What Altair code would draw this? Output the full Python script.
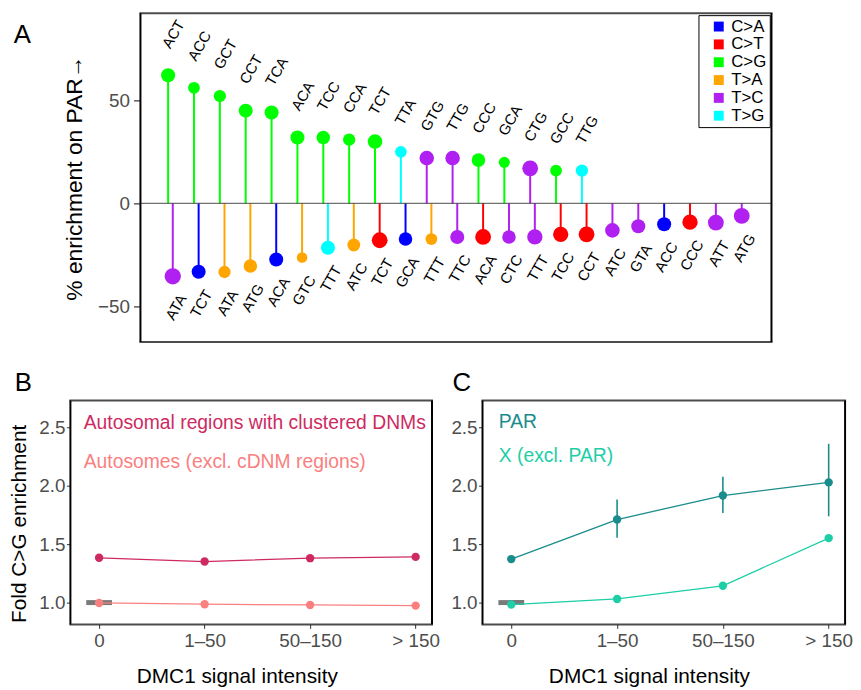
import json
import altair as alt
import pandas as pd

FONT = "Liberation Sans"

# ---------------- Panel A data ----------------
up_context = ["ACT", "ACC", "GCT", "CCT", "TCA", "ACA", "TCC", "CCA", "TCT",
              "TTA", "GTG", "TTG", "CCC", "GCA", "CTG", "GCC", "TTG"]
up_pct = [62.2, 56.1, 52.1, 45.0, 44.1, 32.0, 32.0, 30.9, 30.0,
          25.0, 22.0, 22.0, 21.0, 19.9, 17.0, 15.9, 15.9]
up_type = ["C>G"] * 9 + ["T>G", "T>C", "T>C", "C>G", "C>G", "T>C", "C>G", "T>G"]
up_n = [8, 6.7, 7, 8, 8, 8, 7.7, 7, 8.3, 6.7, 8.3, 8.3, 7.7, 6.3, 9, 6.7, 7]

down_context = ["ATA", "TCT", "ATA", "ATG", "ACA", "GTC", "TTT", "ATC", "TCT", "GCA",
                "TTT", "TTC", "ACA", "CTC", "TTT", "TCC", "CCT", "ATC", "GTA", "ACC",
                "CCC", "ATT", "ATG"]
down_pct = [-35.4, -33.2, -33.3, -30.4, -27.2, -26.3, -21.5, -20.2, -17.9, -17.3,
            -17.3, -16.3, -16.3, -16.3, -16.3, -15.0, -15.0, -13.1, -11.1, -10.1,
            -9.1, -9.3, -6.1]
down_type = ["T>C", "C>A", "T>A", "T>A", "C>A", "T>A", "T>G", "T>A", "C>T", "C>A",
             "T>A", "T>C", "C>T", "T>C", "T>C", "C>T", "C>T", "T>C", "T>C", "C>A",
             "C>T", "T>C", "T>C"]
down_n = [9.3, 8, 7, 7.7, 8, 6, 8, 7.3, 9, 7.7, 6.7, 8, 9, 7.7, 8.7, 8.7, 9, 8.3, 8, 8,
          8.7, 9, 9]

mut_types = ["C>A", "C>T", "C>G", "T>A", "T>C", "T>G"]
mut_colors = ["#0000FF", "#FF0000", "#00FF00", "#FFA500", "#B020F0", "#00FFFF"]

# ---------------- Panel B / C data ----------------
dmc1_bins = ["0", "1–50", "50–150", "> 150"]
b_clustered = [1.384, 1.352, 1.381, 1.392]
b_autosomes = [0.997, 0.986, 0.980, 0.974]
c_par = [1.373, 1.712, 1.918, 2.031]
c_par_lo = [None, 1.557, 1.769, 1.740]
c_par_hi = [None, 1.884, 2.079, 2.362]
c_x = [0.983, 1.031, 1.144, 1.553]
c_x_lo = [None, 0.996, None, None]
c_x_hi = [None, 1.066, None, None]
baseline_fold = [1.0]

B_GROUPS = ["Autosomal regions with clustered DNMs", "Autosomes (excl. cDNM regions)"]
B_COLORS = ["#CE2A62", "#FA8080"]
C_GROUPS = ["PAR", "X (excl. PAR)"]
C_COLORS = ["#1A8C8C", "#1DCEA6"]

# ---------------- Panel A ----------------
A_SHIFT = 70.7   # panel A frame starts this many px right of panel B's frame
A_W, A_H = 637, 332

up_df = pd.DataFrame({"context": up_context, "pct": up_pct, "type": up_type, "n": up_n})
up_df["pos"] = list(range(len(up_df)))
down_df = pd.DataFrame({"context": down_context, "pct": down_pct, "type": down_type, "n": down_n})
down_df["pos"] = [j + 0.18 for j in range(len(down_df))]
lolli = pd.concat([up_df, down_df], ignore_index=True)

x_lo, x_hi = -1.07, 23.33
y_lo, y_hi = -67.3, 92.3
x_mid = (x_lo + x_hi) / 2
x_lo_ext = x_lo - A_SHIFT * (x_hi - x_lo) / A_W
x_a = alt.X("pos:Q", scale=alt.Scale(domain=[x_lo_ext, x_hi], nice=False, zero=False), axis=None)
y_a = alt.Y(
    "pct:Q",
    scale=alt.Scale(domain=[y_lo, y_hi], nice=False, zero=False),
    axis=alt.Axis(values=[-50, 0, 50], title="% enrichment on PAR→", grid=False, domain=False,
                  offset=-A_SHIFT,
                  labelFontSize=19, labelColor="#4D4D4D", labelPadding=4, tickSize=7,
                  tickColor="#333333", tickWidth=1.2, titleFontSize=23, titleFontWeight="normal",
                  titleColor="black", titleX=-66, titleBaseline="middle"),
)

# frame of panel A's plotting region (in its own data units)
h_edges = pd.DataFrame({"pos": [x_mid, x_mid], "pct": [y_lo, y_hi]})
v_edges = pd.DataFrame({"pos": [x_lo, x_hi], "pct": [y_lo, y_lo], "pct2": [y_hi, y_hi]})
frame_h = alt.Chart(h_edges).mark_tick(orient="horizontal", size=A_W + 2, thickness=2, color="black").encode(x=x_a, y=y_a)
frame_v = alt.Chart(v_edges).mark_rule(strokeWidth=2, color="black").encode(x=x_a, y=y_a, y2="pct2:Q")

stems = alt.Chart(lolli).mark_rule(strokeWidth=2).encode(
    x=x_a, y=y_a, y2=alt.datum(0),
    stroke=alt.Stroke("type:N", scale=alt.Scale(domain=mut_types[::-1], range=mut_colors[::-1]), legend=None),
)
zero_line = alt.Chart(pd.DataFrame({"pos": [x_mid], "pct": [0.0]})).mark_tick(
    orient="horizontal", size=A_W, thickness=1.5, color="#333333").encode(x=x_a, y=y_a)
dots = alt.Chart(lolli).mark_circle(opacity=1).encode(
    x=x_a, y=y_a,
    color=alt.Color("type:N", scale=alt.Scale(domain=mut_types, range=mut_colors),
                    legend=alt.Legend(title=None, orient="top-right", offset=1.5, symbolType="square",
                                      symbolSize=100, symbolStrokeWidth=0, labelFontSize=17,
                                      labelColor="black", padding=3, rowPadding=0, symbolOffset=9,
                                      labelOffset=4, strokeColor="black", fillColor="white")),
    size=alt.Size("n:Q", scale=alt.Scale(type="pow", exponent=2, domain=[0, 10], range=[0, 314]), legend=None),
)
up_text = alt.Chart(up_df).mark_text(angle=300, align="left", baseline="alphabetic", radius=26, theta=0.08,
                                     fontSize=15, color="black").encode(x=x_a, y=y_a, text="context:N")
down_text = alt.Chart(down_df).mark_text(angle=300, align="right", baseline="top", radius=16.5, theta=2.9,
                                         fontSize=15, color="black").encode(x=x_a, y=y_a, text="context:N")
letter_a = alt.Chart(pd.DataFrame({"t": ["A"]})).mark_text(fontSize=26, align="left", baseline="alphabetic",
                                                           color="black").encode(text="t:N", x=alt.value(-57.3), y=alt.value(30))


def guard(x, y, y2):
    # invisible vertical tick that only pins the page bounds
    return alt.Chart(pd.DataFrame({"t": [0]})).mark_rule(opacity=0, strokeWidth=0.01).encode(
        x=alt.value(x), y=alt.value(y), y2=alt.value(y2))


panel_a = alt.layer(stems, zero_line, dots, up_text, down_text, frame_h, frame_v, letter_a,
                    guard(300, -2, 0)).properties(width=A_SHIFT + A_W, height=A_H)

# ---------------- Panels B / C ----------------
BC_X = [-0.272, 3.155]
BC_Y = [0.813, 2.733]


def x_bc():
    return alt.X("pos:Q", scale=alt.Scale(domain=BC_X, nice=False, zero=False),
                 axis=alt.Axis(values=[0, 1, 2, 3],
                               labelExpr=json.dumps(dmc1_bins, ensure_ascii=False) + "[datum.value]",
                               title="DMC1 signal intensity", grid=False, domain=False, tickSize=4,
                               tickColor="#333333", labelFontSize=19, labelColor="#4D4D4D", labelPadding=3,
                               titleFontSize=21, titleFontWeight="normal", titleColor="black",
                               titleX=168, titleY=53, titleBaseline="middle"))


def y_bc(title):
    kw = dict(values=[1.0, 1.5, 2.0, 2.5], format=".1f", grid=False, domain=False, tickSize=4,
              tickColor="#333333", labelFontSize=19, labelColor="#4D4D4D", labelPadding=1.5)
    if title:
        kw.update(title=title, titleFontSize=21, titleFontWeight="normal", titleColor="black",
                  titleX=-51, titleY=124, titleBaseline="middle")
    else:
        kw.update(title=None)
    return alt.Y("fold:Q", scale=alt.Scale(domain=BC_Y, nice=False, zero=False), axis=alt.Axis(**kw))


def make_panel(groups, colors, series, lo, hi, letter, letter_x, title, texts, width, guards=()):
    rows = []
    for g, vals, los, his in zip(groups, series, lo, hi):
        for i, (b, v) in enumerate(zip(dmc1_bins, vals)):
            rows.append({"bin": b, "pos": i, "fold": v, "group": g, "lo": los[i], "hi": his[i]})
    df = pd.DataFrame(rows)
    col = alt.Color("group:N", scale=alt.Scale(domain=groups, range=colors), legend=None)
    xx, yy = x_bc(), y_bc(title)
    base_df = pd.DataFrame({"pos": [0], "fold": baseline_fold})
    ref = alt.Chart(base_df).mark_tick(orient="horizontal", size=26, thickness=5, color="#404040").encode(x=xx, y=yy)
    lines = alt.Chart(df).mark_line(strokeWidth=1.3).encode(x=xx, y=yy, color=col, detail="group:N")
    err_df = df.dropna(subset=["lo", "hi"])
    errs = alt.Chart(err_df).mark_rule(strokeWidth=1.6).encode(x=xx, y=alt.Y("lo:Q"), y2="hi:Q", color=col)
    pts = alt.Chart(df).mark_circle(size=72, opacity=1).encode(x=xx, y=yy, color=col)
    mid = (BC_X[0] + BC_X[1]) / 2
    fh = alt.Chart(pd.DataFrame({"pos": [mid, mid], "fold": BC_Y})).mark_tick(
        orient="horizontal", size=width + 2, thickness=2, color="black").encode(x=xx, y=yy)
    fv = alt.Chart(pd.DataFrame({"pos": BC_X, "fold": [BC_Y[0]] * 2, "fold2": [BC_Y[1]] * 2})).mark_rule(
        strokeWidth=2, color="black").encode(x=xx, y=yy, y2="fold2:Q")
    layers = [ref, lines, errs, pts, fh, fv]
    for (txt, c, tx, ty) in texts:
        layers.append(alt.Chart(pd.DataFrame({"t": [txt]})).mark_text(
            align="left", baseline="middle", fontSize=19.5, color=c).encode(
            text="t:N", x=alt.value(tx), y=alt.value(ty)))
    layers.append(alt.Chart(pd.DataFrame({"t": [letter]})).mark_text(
        fontSize=26, align="left", baseline="alphabetic", color="black").encode(
        text="t:N", x=alt.value(letter_x), y=alt.value(-9.3)))
    layers.extend(guards)
    return alt.layer(*layers).properties(width=width, height=226)


panel_b = make_panel(B_GROUPS, B_COLORS, [b_clustered, b_autosomes],
                     [[None] * 4, [None] * 4], [[None] * 4, [None] * 4],
                     "B", -56.3, "Fold C>G enrichment",
                     [(B_GROUPS[0], B_COLORS[0], 13.4, 22.3), (B_GROUPS[1], B_COLORS[1], 13.4, 61.7)],
                     365, guards=[guard(-61.3, 100, 110)])
panel_c = make_panel(C_GROUPS, C_COLORS, [c_par, c_x], [c_par_lo, c_x_lo], [c_par_hi, c_x_hi],
                     "C", -30.3, None,
                     [(C_GROUPS[0], C_COLORS[0], 16.4, 21.3), (C_GROUPS[1], C_COLORS[1], 16.4, 55.7)],
                     366)

bottom_row = alt.hconcat(panel_b, panel_c, spacing=51, bounds="flush").resolve_scale(color="independent")

chart = alt.vconcat(panel_a, bottom_row, spacing=59, bounds="flush").resolve_scale(
    x="independent", y="independent", color="independent", size="independent", stroke="independent"
).properties(padding=0).configure(font=FONT).configure_view(
    stroke="transparent", strokeWidth=0
).configure_axis(labelFont=FONT, titleFont=FONT).configure_text(font=FONT)

chart.save("out.html", embed_options={"renderer": "svg", "actions": False})
